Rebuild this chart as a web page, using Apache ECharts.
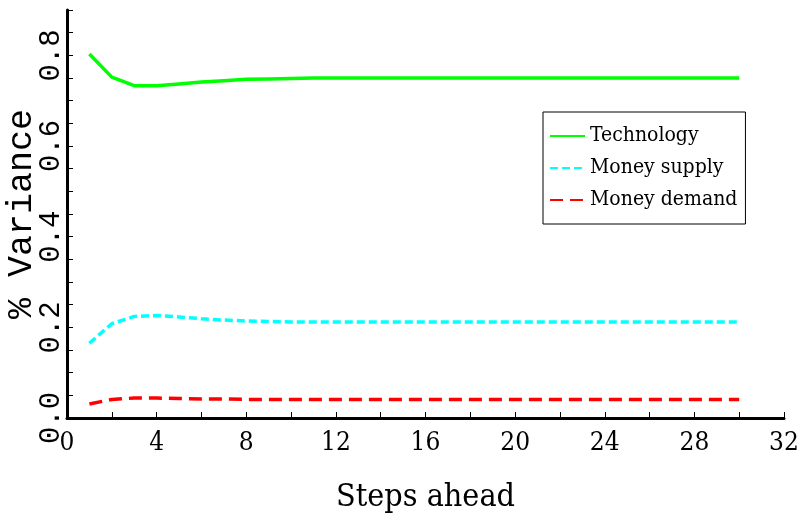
<!DOCTYPE html>
<html>
<head>
<meta charset="utf-8">
<script src="https://cdn.jsdelivr.net/npm/echarts@6/dist/echarts.min.js"></script>
<style>
  html, body { margin: 0; padding: 0; background: #ffffff; }
  #chart { width: 804px; height: 525px; }
</style>
</head>
<body>
<div id="chart"></div>
<script>
// forecast horizon (steps ahead)
var steps = [1, 2, 3, 4, 5, 6, 7, 8, 9, 10, 11, 12, 13, 14, 15, 16, 17, 18, 19, 20,
             21, 22, 23, 24, 25, 26, 27, 28, 29, 30];

// share of variance explained by each shock
var technology = [0.803, 0.752, 0.733, 0.733, 0.737, 0.741, 0.744, 0.747, 0.748, 0.749,
                  0.750, 0.750, 0.750, 0.750, 0.750, 0.750, 0.750, 0.750, 0.750, 0.750,
                  0.750, 0.750, 0.750, 0.750, 0.750, 0.750, 0.750, 0.750, 0.750, 0.750];
var moneySupply = [0.165, 0.208, 0.224, 0.226, 0.223, 0.219, 0.216, 0.214, 0.213, 0.212,
                   0.212, 0.212, 0.212, 0.212, 0.212, 0.212, 0.212, 0.212, 0.212, 0.212,
                   0.212, 0.212, 0.212, 0.212, 0.212, 0.212, 0.212, 0.212, 0.212, 0.212];
var moneyDemand = [0.031, 0.041, 0.044, 0.044, 0.043, 0.042, 0.042, 0.041, 0.041, 0.041,
                   0.041, 0.041, 0.041, 0.041, 0.041, 0.041, 0.041, 0.041, 0.041, 0.041,
                   0.041, 0.041, 0.041, 0.041, 0.041, 0.041, 0.041, 0.041, 0.041, 0.041];

var seriesNames = ['Technology', 'Money supply', 'Money demand'];

function pairs(ys) {
    return steps.map(function (s, i) { return [s, ys[i]]; });
}

var serifFont = '"DejaVu Serif Condensed", "DejaVu Serif", serif';
var monoFont = '"Liberation Mono", "DejaVu Sans Mono", monospace';

var myChart = echarts.init(document.getElementById('chart'));

var option = {
    backgroundColor: '#ffffff',
    animation: false,
    grid: {
        left: 67,
        right: 20,
        top: 10,
        bottom: 107,
        containLabel: false,
        outerBoundsMode: 'none'
    },
    legend: {
        orient: 'vertical',
        left: 543,
        top: 112,
        // legend shows only the line sample, no marker
        data: seriesNames.map(function (n) {
            return { name: n, itemStyle: { opacity: 0 } };
        }),
        backgroundColor: '#ffffff',
        borderColor: '#000000',
        borderWidth: 1,
        borderRadius: 0,
        padding: [13, 8, 13, 6],
        itemWidth: 35,
        itemHeight: 14,
        itemGap: 10,
        textStyle: {
            fontFamily: serifFont,
            fontSize: 21,
            lineHeight: 22,
            color: '#000000'
        }
    },
    xAxis: {
        type: 'value',
        min: 0,
        max: 32,
        interval: 2,
        name: 'Steps ahead',
        nameLocation: 'middle',
        nameGap: 64,
        nameTextStyle: {
            fontFamily: serifFont,
            fontSize: 32,
            color: '#000000'
        },
        splitLine: { show: false },
        axisLine: { lineStyle: { color: '#000000', width: 3 } },
        axisTick: { inside: true, length: 6, lineStyle: { color: '#000000', width: 1 } },
        axisLabel: {
            margin: 12,
            fontFamily: serifFont,
            fontSize: 26,
            color: '#000000',
            formatter: function (v) { return v % 4 === 0 ? String(v) : ''; }
        }
    },
    yAxis: {
        type: 'value',
        min: 0,
        max: 0.9,
        interval: 0.05,
        name: '% Variance',
        nameLocation: 'middle',
        nameRotate: 90,
        nameGap: 28,
        nameMoveOverlap: false,
        nameTextStyle: {
            fontFamily: monoFont,
            fontSize: 35,
            color: '#000000'
        },
        splitLine: { show: false },
        axisLine: { lineStyle: { color: '#000000', width: 3 } },
        axisTick: { inside: true, length: 6, lineStyle: { color: '#000000', width: 1 } },
        axisLabel: {
            rotate: 90,
            margin: 1,
            fontFamily: monoFont,
            fontSize: 29,
            color: '#000000',
            formatter: function (v) {
                return Math.round(v * 100) % 20 === 0 ? v.toFixed(1) : '';
            }
        }
    },
    series: [
        {
            name: 'Technology',
            type: 'line',
            symbol: 'none',
            data: pairs(technology),
            itemStyle: { color: '#00ff00' },
            lineStyle: { color: '#00ff00', width: 3.5 }
        },
        {
            name: 'Money supply',
            type: 'line',
            symbol: 'none',
            data: pairs(moneySupply),
            itemStyle: { color: '#00ffff' },
            lineStyle: { color: '#00ffff', width: 3.5, type: [8, 4] }
        },
        {
            name: 'Money demand',
            type: 'line',
            symbol: 'none',
            data: pairs(moneyDemand),
            itemStyle: { color: '#ff0000' },
            lineStyle: { color: '#ff0000', width: 3.5, type: [13, 7] }
        }
    ]
};

myChart.setOption(option);
</script>
</body>
</html>
